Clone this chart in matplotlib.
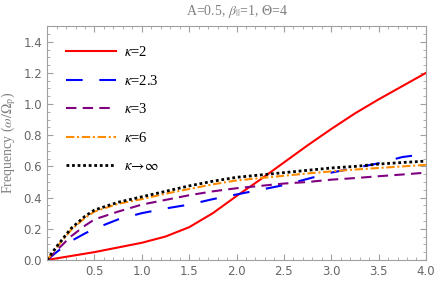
import matplotlib
matplotlib.use("Agg")
import matplotlib.pyplot as plt
from matplotlib.ticker import MultipleLocator

# wave number k (x axis)
k = [0.0, 0.1, 0.25, 0.4, 0.5, 0.75, 1.0, 1.25, 1.5, 1.75, 2.0, 2.25, 2.5, 2.75, 3.0, 3.25, 3.5, 3.75, 4.0]

# frequency curves for each kappa
w_k2 = [0.0, 0.01, 0.025, 0.04, 0.05, 0.08, 0.11, 0.15, 0.21, 0.30, 0.41, 0.515, 0.625, 0.735, 0.84, 0.94, 1.03, 1.115, 1.20]
w_k23 = [0.0, 0.05, 0.12, 0.17, 0.20, 0.26, 0.30, 0.33, 0.355, 0.39, 0.42, 0.45, 0.48, 0.52, 0.56, 0.59, 0.62, 0.66, 0.68]
w_k3 = [0.0, 0.06, 0.15, 0.22, 0.26, 0.31, 0.355, 0.385, 0.415, 0.44, 0.46, 0.475, 0.49, 0.50, 0.515, 0.525, 0.537, 0.548, 0.56]
w_k6 = [0.0, 0.08, 0.19, 0.27, 0.31, 0.36, 0.39, 0.425, 0.455, 0.485, 0.51, 0.525, 0.54, 0.555, 0.568, 0.58, 0.59, 0.60, 0.61]
w_inf = [0.0, 0.085, 0.20, 0.28, 0.32, 0.37, 0.405, 0.44, 0.475, 0.505, 0.53, 0.545, 0.56, 0.575, 0.59, 0.60, 0.615, 0.625, 0.634]

labels = [r"$\kappa$=2", r"$\kappa$=2.3", r"$\kappa$=3", r"$\kappa$=6", r"$\kappa\!\rightarrow\!\infty$"]

plt.rcParams['font.family'] = ['Liberation Serif', 'DejaVu Serif']
plt.rcParams['mathtext.fontset'] = 'stix'

fig = plt.figure(figsize=(4.36, 3.04), dpi=100)
ax = fig.add_axes([0.108, 0.145, 0.869, 0.769])

ax.plot(k, w_k2, color='red', lw=1.5, label=labels[0])
ax.plot(k, w_k23, color='blue', lw=1.5, dashes=(8, 8), label=labels[1])
ax.plot(k, w_k3, color='purple', lw=1.5, dashes=(5, 3), label=labels[2])
ax.plot(k, w_k6, color='darkorange', lw=1.5, dashes=(4, 1.3, 1, 1.3), label=labels[3])
ax.plot(k, w_inf, color='black', lw=2, dashes=(1, 1), label=labels[4])

ax.set_xlim(0, 4)
ax.set_ylim(0, 1.5)
ax.xaxis.set_major_locator(MultipleLocator(0.5))
ax.xaxis.set_minor_locator(MultipleLocator(0.1))
ax.yaxis.set_major_locator(MultipleLocator(0.2))
ax.yaxis.set_minor_locator(MultipleLocator(0.05))
ax.set_xticks([0.5, 1.0, 1.5, 2.0, 2.5, 3.0, 3.5, 4.0])

gray = '#808080'
for s in ax.spines.values():
    s.set_color('#a0a0a0')
ax.tick_params(which='both', direction='in', top=True, right=True, colors='#a0a0a0',
               labelcolor='#666666', labelsize=8.5)
ax.tick_params(which='major', length=4)
ax.tick_params(which='minor', length=2)
for t in ax.get_xticklabels() + ax.get_yticklabels():
    t.set_family('DejaVu Sans')

ax.set_title(r"A=0.5, $\beta_{||}$=1, $\Theta$=4", color=gray, fontsize=10, pad=8)
ax.set_ylabel(r"Frequency ($\omega/\Omega_{\rm p}$)", color=gray, fontsize=10)

ax.legend(loc='upper left', frameon=False, handlelength=3.4, labelspacing=1.0,
          fontsize=10.5, handletextpad=0.6, borderaxespad=0.9, bbox_to_anchor=(0.0, 1.0))

fig.savefig("out.png", dpi=100)
